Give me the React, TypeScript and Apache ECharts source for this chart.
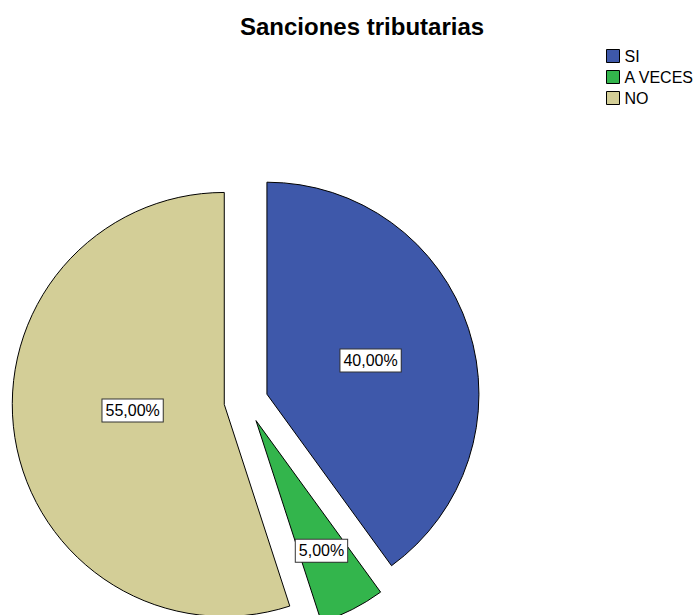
import React, { useEffect, useRef } from "react";
import * as echarts from "echarts";

const titleText = "Sanciones tributarias";
const categories = ["SI", "A VECES", "NO"];
const percentages = [40, 5, 55];
const colors = ["#3E58AA", "#33B54C", "#D3CE97"];
const labelShift = [
  [0, 0],
  [16, 33],
  [16, -11],
];

export default function App() {
  const ref = useRef<HTMLDivElement>(null);
  useEffect(() => {
    if (!ref.current) return;
    const chart = echarts.init(ref.current, null, { renderer: "svg" });
    const font = "'Liberation Sans', Arial, sans-serif";
    chart.setOption({
      animation: false,
      backgroundColor: "#ffffff",
      title: {
        text: titleText,
        left: 240,
        top: 14,
        padding: 0,
        textStyle: { fontFamily: font, fontSize: 24, fontWeight: "bold", color: "#000" },
      },
      legend: {
        orient: "vertical",
        left: 606,
        top: 48,
        padding: 0,
        itemWidth: 13,
        itemHeight: 13,
        itemGap: 5,
        icon: "rect",
        selectedMode: false,
        data: categories,
        itemStyle: { borderColor: "#000", borderWidth: 1 },
        textStyle: { fontFamily: font, fontSize: 16, color: "#000", padding: [0, 0, 0, 0] },
      },
      series: [
        {
          type: "pie",
          center: [246, 401],
          radius: 212,
          startAngle: 90,
          clockwise: true,
          selectedMode: "multiple",
          selectedOffset: 22,
          avoidLabelOverlap: false,
          emphasis: { disabled: true },
          itemStyle: { borderColor: "#000", borderWidth: 1 },
          label: {
            show: true,
            position: "inside",
            fontFamily: font,
            fontSize: 16,
            color: "#000",
            backgroundColor: "#fff",
            borderColor: "#333",
            borderWidth: 1,
            padding: [3, 3, 3, 3],
            formatter: (p: any) => p.value.toFixed(2).replace(".", ",") + "%",
          },
          labelLayout: (p: any) => ({
            dx: labelShift[p.dataIndex][0],
            dy: labelShift[p.dataIndex][1],
          }),
          data: categories.map((c, i) => ({
            name: c,
            value: percentages[i],
            selected: true,
            itemStyle: { color: colors[i] },
          })),
        },
      ],
    });
    return () => chart.dispose();
  }, []);
  return (
    <div
      ref={ref}
      style={{ position: "absolute", left: 0, top: 0, width: 696, height: 615 }}
    />
  );
}
